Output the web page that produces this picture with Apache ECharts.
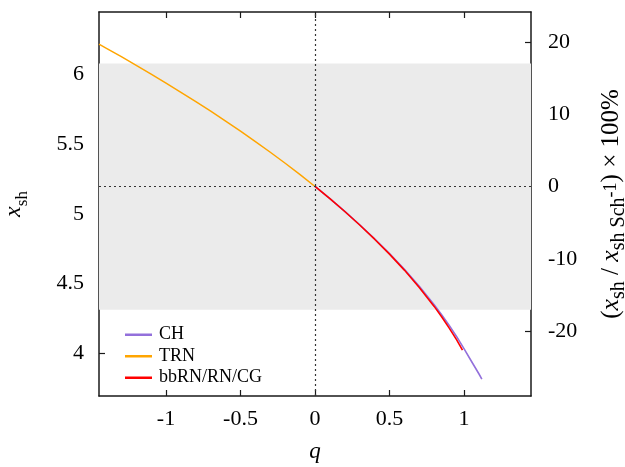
<!DOCTYPE html>
<html>
<head>
<meta charset="utf-8">
<script src="https://cdn.jsdelivr.net/npm/echarts@6/dist/echarts.min.js"></script>
<style>
  html, body { margin: 0; padding: 0; background: #fff; }
  #chart { width: 625px; height: 467px; }
</style>
</head>
<body>
<div id="chart"></div>
<script>
// Shadow radius x_sh versus charge parameter q
const qTRN = [-1.45, -1.4, -1.3, -1.2, -1.1, -1.0, -0.9, -0.8, -0.7, -0.6, -0.5, -0.4, -0.3, -0.2, -0.1, 0];
const xTRN = [6.219, 6.189, 6.129, 6.067, 6.004, 5.939, 5.873, 5.806, 5.737, 5.666, 5.594, 5.519, 5.442, 5.363, 5.281, 5.196];

const qRN = [0, 0.1, 0.2, 0.3, 0.4, 0.5, 0.6, 0.7, 0.8, 0.85, 0.9, 0.95, 0.99];
const xRN = [5.196, 5.108, 5.016, 4.919, 4.817, 4.710, 4.595, 4.470, 4.334, 4.260, 4.180, 4.095, 4.020];

const qCH = [0, 0.1, 0.2, 0.3, 0.4, 0.5, 0.6, 0.7, 0.8, 0.85, 0.9, 0.95, 1.0, 1.05, 1.1, 1.12];
const xCH = [5.196, 5.108, 5.017, 4.921, 4.820, 4.714, 4.601, 4.479, 4.346, 4.275, 4.199, 4.118, 4.030, 3.940, 3.850, 3.812];

const seriesNames = ['CH', 'TRN', 'bbRN/RN/CG'];

// Axis ranges and tick labels
const qRange = [-1.45, 1.45];
const xshRange = [3.69, 6.45];
const qTicks = [-1, -0.5, 0, 0.5, 1];
const xshTicks = [4, 4.5, 5, 5.5, 6];
const pctTicks = [-20, -10, 0, 10, 20];

// Schwarzschild shadow radius and the shaded 1-sigma band
const xshSch = 3 * Math.sqrt(3);
const band = [4.31, 6.08];

const FONT = 'Liberation Serif';
const INK = '#1a1a1a';
const pct = v => (v / xshSch - 1) * 100;
const pairs = (xs, ys) => xs.map((x, i) => [x, ys[i]]);

const chart = echarts.init(document.getElementById('chart'), null, { renderer: 'canvas' });

const axisLineStyle = { show: true, onZero: false, lineStyle: { color: INK, width: 1.5 } };
const tickStyle = (vals) => ({ show: true, inside: true, length: 6, customValues: vals, lineStyle: { color: INK, width: 1.2 } });
const labelStyle = (vals, margin) => ({ show: true, customValues: vals, margin: margin, fontFamily: FONT, fontSize: 22, color: '#000' });

// rich-text pieces for the left axis title
const italL = { fontFamily: FONT, fontStyle: 'italic', fontSize: 24, lineHeight: 34, color: '#000' };
const subL = { fontFamily: FONT, fontSize: 17, lineHeight: 14, verticalAlign: 'bottom', color: '#000' };
// rich-text pieces for the right axis title
const italR = { fontFamily: FONT, fontStyle: 'italic', fontSize: 26, lineHeight: 36, color: '#000' };
const plainR = { fontFamily: FONT, fontSize: 25, lineHeight: 36, color: '#000' };
const subR = { fontFamily: FONT, fontSize: 20, lineHeight: 13, verticalAlign: 'bottom', color: '#000' };
const supR = { fontFamily: FONT, fontSize: 18, lineHeight: 36, verticalAlign: 'middle', color: '#000' };

const option = {
  backgroundColor: '#fff',
  animation: false,
  grid: { left: 99, right: 94, top: 12, bottom: 71, containLabel: false, outerBoundsMode: 'none' },
  legend: {
    data: seriesNames,
    orient: 'vertical',
    left: 120,
    top: 320,
    icon: 'rect',
    itemWidth: 27,
    itemHeight: 2.5,
    itemGap: 2,
    textStyle: { fontFamily: FONT, fontSize: 18, color: '#000', lineHeight: 19.5, padding: [0, 0, 0, 2] }
  },
  xAxis: [
    {
      type: 'value', position: 'bottom', min: qRange[0], max: qRange[1],
      axisLine: axisLineStyle, axisTick: tickStyle(qTicks), axisLabel: labelStyle(qTicks, 12),
      splitLine: { show: false },
      name: 'q', nameLocation: 'middle', nameGap: 44,
      nameTextStyle: { fontFamily: FONT, fontStyle: 'italic', fontSize: 23, color: '#000' }
    },
    {
      type: 'value', position: 'top', min: qRange[0], max: qRange[1],
      axisLine: axisLineStyle, axisTick: tickStyle(qTicks), axisLabel: { show: false, customValues: qTicks },
      splitLine: { show: false }
    }
  ],
  yAxis: [
    {
      type: 'value', position: 'left', min: xshRange[0], max: xshRange[1],
      axisLine: axisLineStyle, axisTick: tickStyle(xshTicks), axisLabel: labelStyle(xshTicks, 15),
      splitLine: { show: false },
      name: '{i|x}{s|sh}', nameLocation: 'middle', nameGap: 68,
      nameTextStyle: { rich: { i: italL, s: subL } }
    },
    {
      type: 'value', position: 'right', min: pct(xshRange[0]), max: pct(xshRange[1]),
      axisLine: axisLineStyle, axisTick: tickStyle(pctTicks), axisLabel: labelStyle(pctTicks, 17),
      splitLine: { show: false },
      name: '{t|(}{i|x}{s|sh}{t| / }{i|x}{s|sh Sch}{p|-1}{t|) × 100%}',
      nameLocation: 'middle', nameGap: 62,
      nameTextStyle: { rich: { t: plainR, i: italR, s: subR, p: supR } }
    }
  ],
  series: [
    {
      name: '__frame', type: 'line', data: [], silent: true, z: 1,
      markArea: {
        silent: true,
        itemStyle: { color: '#ebebeb' },
        data: [[{ yAxis: band[0] }, { yAxis: band[1] }]]
      },
      markLine: {
        silent: true, symbol: 'none', label: { show: false },
        lineStyle: { color: '#333', width: 1.2, type: [2, 3] },
        data: [{ xAxis: 0 }, { yAxis: xshSch }]
      }
    },
    {
      name: seriesNames[0], type: 'line', data: pairs(qCH, xCH), symbol: 'none', z: 3,
      itemStyle: { color: '#9370db' }, lineStyle: { color: '#9370db', width: 1.6 }
    },
    {
      name: seriesNames[1], type: 'line', data: pairs(qTRN, xTRN), symbol: 'none', z: 3,
      itemStyle: { color: '#ffa500' }, lineStyle: { color: '#ffa500', width: 1.5 }
    },
    {
      name: seriesNames[2], type: 'line', data: pairs(qRN, xRN), symbol: 'none', z: 4,
      itemStyle: { color: '#ff0000' }, lineStyle: { color: '#ff0000', width: 1.6 }
    }
  ]
};

chart.setOption(option);
</script>
</body>
</html>
